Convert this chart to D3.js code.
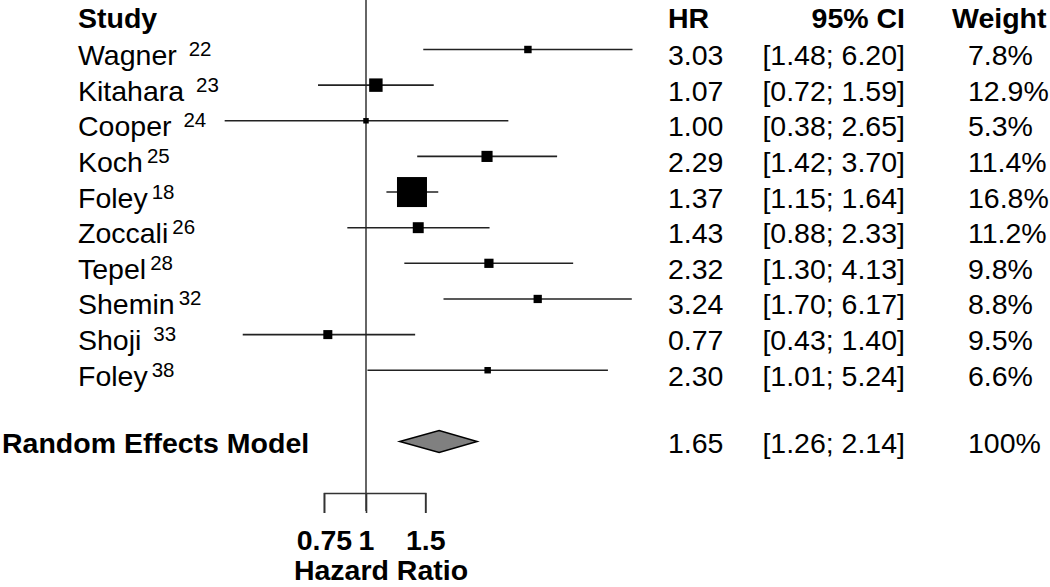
<!DOCTYPE html>
<html>
<head>
<meta charset="utf-8">
<script src="https://cdn.jsdelivr.net/npm/d3@7"></script>
<style>
  body { margin: 0; background: #fff; }
  svg { display: block; font-family: "Liberation Sans", Arial, sans-serif; }
  text { white-space: pre; }
</style>
</head>
<body>
<div id="plot"></div>
<script>
// study rows
var studies = ["Wagner ", "Kitahara ", "Cooper ", "Koch", "Foley", "Zoccali", "Tepel", "Shemin", "Shoji ", "Foley"];
var refs = ["22", "23", "24", "25", "18", "26", "28", "32", "33", "38"];
var hr = [3.03, 1.07, 1.00, 2.29, 1.37, 1.43, 2.32, 3.24, 0.77, 2.30];
var lower = [1.48, 0.72, 0.38, 1.42, 1.15, 0.88, 1.30, 1.70, 0.43, 1.01];
var upper = [6.20, 1.59, 2.65, 3.70, 1.64, 2.33, 4.13, 6.17, 1.40, 5.24];
var weights = ["7.8%", "12.9%", "5.3%", "11.4%", "16.8%", "11.2%", "9.8%", "8.8%", "9.5%", "6.6%"];

// pooled estimate
var pooledLabel = "Random Effects Model";
var pooledHR = 1.65;
var pooledLower = 1.26;
var pooledUpper = 2.14;
var pooledWeight = "100%";

var axisTicks = [0.75, 1, 1.5];

var width = 1050, height = 587;
var fs = 28.5;

var svg = d3.select("#plot").append("svg")
    .attr("width", width)
    .attr("height", height);

var x = d3.scaleLog()
    .domain([1, 6.2])
    .range([366, 632.5]);

// row index -> vertical position (row 10 is the gap, 11 the pooled row)
var y = d3.scaleLinear()
    .domain([0, 11])
    .range([49.5, 441.5]);

// box size from inverse-variance weights derived from the CIs
var fixedW = lower.map(function(l, i) {
    var se = (Math.log(upper[i]) - Math.log(l)) / 3.92;
    return 1 / (se * se);
});
var boxSize = d3.scaleSqrt()
    .domain([0, d3.max(fixedW)])
    .range([0, 30]);

var rows = studies.map(function(s, i) {
    return { name: s, ref: refs[i], hr: hr[i], lo: lower[i], hi: upper[i], w: weights[i], fw: fixedW[i], i: i };
});

// reference line at HR = 1
svg.append("line")
    .attr("x1", x(1)).attr("x2", x(1))
    .attr("y1", 0).attr("y2", 511)
    .attr("stroke", "#666")
    .attr("stroke-width", 2);

// headers
var headY = 28;
svg.append("text").attr("x", 78).attr("y", headY)
    .attr("font-size", fs).attr("font-weight", "bold").text("Study");
svg.append("text").attr("x", 668).attr("y", headY)
    .attr("font-size", fs).attr("font-weight", "bold").text("HR");
svg.append("text").attr("x", 905).attr("y", headY).attr("text-anchor", "end")
    .attr("font-size", fs).attr("font-weight", "bold").text("95% CI");
svg.append("text").attr("x", 952).attr("y", headY)
    .attr("font-size", fs).attr("font-weight", "bold").text("Weight");

var rowG = svg.selectAll("g.row")
    .data(rows)
    .enter().append("g")
    .attr("class", "row");

// CI lines
rowG.append("line")
    .attr("x1", function(d) { return x(d.lo); })
    .attr("x2", function(d) { return x(d.hi); })
    .attr("y1", function(d) { return y(d.i); })
    .attr("y2", function(d) { return y(d.i); })
    .attr("stroke", "#222")
    .attr("stroke-width", 1.6);

// boxes
rowG.append("rect")
    .attr("x", function(d) { return x(d.hr) - boxSize(d.fw) / 2; })
    .attr("y", function(d) { return y(d.i) - boxSize(d.fw) / 2; })
    .attr("width", function(d) { return boxSize(d.fw); })
    .attr("height", function(d) { return boxSize(d.fw); })
    .attr("fill", "#000");

// study labels with reference superscripts
var lab = rowG.append("text")
    .attr("x", 78)
    .attr("y", function(d) { return y(d.i) + 15.5; })
    .attr("font-size", fs);
lab.append("tspan").text(function(d) { return d.name; });
lab.append("tspan")
    .attr("dx", 4)
    .attr("dy", -9)
    .attr("font-size", 20.5)
    .text(function(d) { return d.ref; });

rowG.append("text")
    .attr("x", 668)
    .attr("y", function(d) { return y(d.i) + 15.5; })
    .attr("font-size", fs)
    .text(function(d) { return d.hr.toFixed(2); });

rowG.append("text")
    .attr("x", 905)
    .attr("y", function(d) { return y(d.i) + 15.5; })
    .attr("text-anchor", "end")
    .attr("font-size", fs)
    .text(function(d) { return "[" + d.lo.toFixed(2) + "; " + d.hi.toFixed(2) + "]"; });

rowG.append("text")
    .attr("x", 968)
    .attr("y", function(d) { return y(d.i) + 15.5; })
    .attr("font-size", fs)
    .text(function(d) { return d.w; });

// pooled row
var py = y(11);
svg.append("path")
    .attr("d", "M" + x(pooledLower) + "," + py +
        "L" + x(pooledHR) + "," + (py - 11) +
        "L" + x(pooledUpper) + "," + py +
        "L" + x(pooledHR) + "," + (py + 11) + "Z")
    .attr("fill", "#808080")
    .attr("stroke", "#000")
    .attr("stroke-width", 1.5);

svg.append("text").attr("x", 2).attr("y", py + 11)
    .attr("font-size", fs).attr("font-weight", "bold").text(pooledLabel);
svg.append("text").attr("x", 668).attr("y", py + 11)
    .attr("font-size", fs).text(pooledHR.toFixed(2));
svg.append("text").attr("x", 905).attr("y", py + 11).attr("text-anchor", "end")
    .attr("font-size", fs).text("[" + pooledLower.toFixed(2) + "; " + pooledUpper.toFixed(2) + "]");
svg.append("text").attr("x", 968).attr("y", py + 11)
    .attr("font-size", fs).text(pooledWeight);

// x axis
var axisScale = x.copy()
    .domain([d3.min(axisTicks), d3.max(axisTicks)])
    .range([x(d3.min(axisTicks)), x(d3.max(axisTicks))]);

var xAxis = svg.append("g")
    .attr("transform", "translate(0,493)")
    .call(d3.axisBottom(axisScale)
        .tickValues(axisTicks)
        .tickFormat(function(d) { return d; })
        .tickSize(20)
        .tickSizeOuter(20));

xAxis.select(".domain").attr("stroke", "#333").attr("stroke-width", 1.6);
xAxis.selectAll(".tick line").attr("stroke", "#333").attr("stroke-width", 1.6);
xAxis.selectAll(".tick text")
    .attr("y", 57)
    .attr("dy", null)
    .attr("fill", "#000")
    .attr("font-size", fs)
    .attr("font-weight", "bold")
    .attr("font-family", "Liberation Sans, Arial, sans-serif");

svg.append("text")
    .attr("x", 381)
    .attr("y", 580)
    .attr("text-anchor", "middle")
    .attr("font-size", fs)
    .attr("font-weight", "bold")
    .text("Hazard Ratio");
</script>
</body>
</html>
